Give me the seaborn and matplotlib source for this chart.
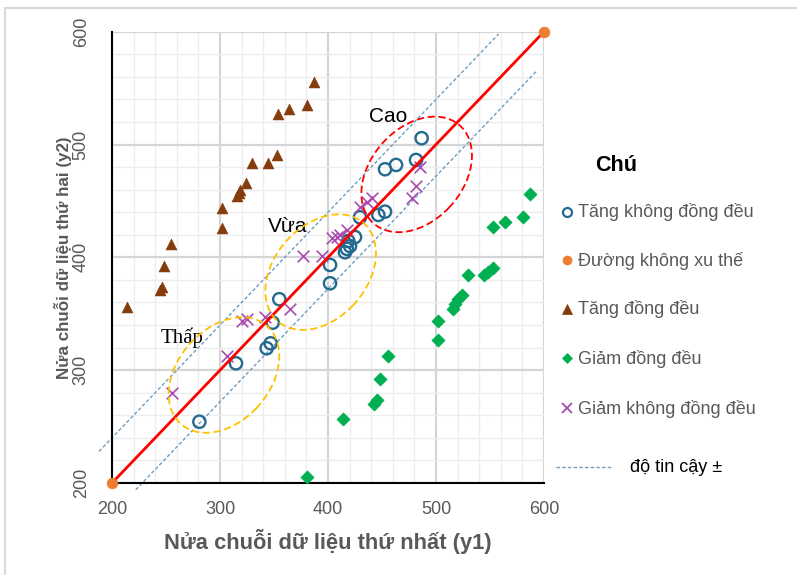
import matplotlib
matplotlib.use("Agg")
import matplotlib.pyplot as plt
import seaborn as sns
from matplotlib.patches import Ellipse
from matplotlib.lines import Line2D
from matplotlib.ticker import MultipleLocator

# ---- data: first half (y1) vs second half (y2) of each series ----
tang_kdd_y1 = [280.9, 314.8, 343.2, 346.9, 348.8, 354.9, 401.9, 401.9, 415.7, 417.5,
               420.4, 418.8, 425.0, 429.6, 446.6, 452.8, 452.8, 463.0, 481.5, 486.7]
tang_kdd_y2 = [254.3, 306.1, 319.4, 323.8, 342.1, 362.9, 377.0, 393.3, 404.5, 407.5,
               410.0, 414.5, 418.0, 435.5, 437.6, 440.5, 478.1, 481.9, 486.3, 505.6]

tang_dd_y1 = [213.6, 244.4, 246.0, 248.1, 254.6, 302.1, 302.1, 316.0, 317.9, 318.5,
              323.8, 329.9, 344.7, 352.5, 354.0, 364.2, 380.9, 387.0]
tang_dd_y2 = [355.8, 371.1, 374.0, 392.4, 411.9, 425.8, 443.5, 454.4, 456.8, 459.7,
              465.7, 484.0, 484.0, 490.8, 527.0, 531.3, 535.0, 555.8]

giam_dd_y1 = [380.8, 414.2, 442.3, 445.5, 448.1, 455.3, 502.1, 502.1, 515.5, 517.6,
              520.7, 523.8, 529.9, 544.4, 548.4, 552.5, 553.1, 563.9, 580.9, 587.0]
giam_dd_y2 = [205.0, 256.5, 270.0, 274.0, 291.9, 312.6, 326.8, 343.6, 354.0, 358.5,
              362.9, 366.7, 384.4, 384.4, 387.3, 390.9, 427.2, 431.6, 435.5, 455.9]

giam_kdd_y1 = [255.3, 306.8, 320.1, 324.7, 341.7, 364.8, 376.6, 394.2, 403.4, 408.6,
               411.1, 417.3, 429.6, 435.8, 440.5, 477.5, 481.5, 485.2]
giam_kdd_y2 = [280.0, 312.6, 343.9, 345.1, 346.9, 354.0, 401.2, 401.2, 416.9, 418.4,
               419.8, 424.3, 445.0, 449.4, 452.4, 452.4, 463.3, 480.4]

# no-trend line y2 = y1 and its confidence band
no_trend_y1 = [200, 600]
no_trend_y2 = [200, 600]
band_hi_y1 = [188, 558]
band_hi_y2 = [228, 598]
band_lo_y1 = [222, 593]
band_lo_y2 = [194, 565]

# grouping ellipses: (label, centre y1, centre y2)
groups = [("Thấp", 303.7, 295.7), ("Vừa", 393.2, 386.9), ("Cao", 482.1, 473.5)]

legend_labels = ["Tăng không đồng đều", "Đường không xu thế", "Tăng đồng đều",
                 "Giảm đồng đều", "Giảm không đồng đều"]
band_label = "độ tin cậy ±"
x_label = "Nửa chuỗi dữ liệu thứ nhất (y1)"
y_label = "Nửa chuỗi dữ liệu thứ hai (y2)"
ticks = [200, 300, 400, 500, 600]

# ---- styling ----
BLUE = "#236A8E"
ORANGE = "#ED7D31"
BROWN = "#843C0C"
GREEN = "#00B050"
PURPLE = "#A94BAE"
BAND = "#6E9DC0"
GRAY = "#595959"

sns.set_style("white")
plt.rcParams["font.family"] = ["Liberation Sans", "DejaVu Sans"]

W, H = 797, 575
fig = plt.figure(figsize=(W / 100, H / 100), dpi=100)
ax = fig.add_axes([112 / W, 1 - 483 / H, 432 / W, 451.3 / H])


def fx(px):
    return px / W


def fy(py):
    return 1 - py / H


# confidence band lines
for bx, by in [(band_hi_y1, band_hi_y2), (band_lo_y1, band_lo_y2)]:
    sns.lineplot(x=bx, y=by, ax=ax, color=BAND, lw=1.0, linestyle=(0, (2.5, 1.6)),
                 clip_on=False, zorder=2)

# series markers
sns.scatterplot(x=tang_dd_y1, y=tang_dd_y2, ax=ax, marker="^", s=62, color=BROWN,
                 edgecolor=BROWN, linewidth=0.4, zorder=3)
sns.scatterplot(x=giam_dd_y1, y=giam_dd_y2, ax=ax, marker="D", s=46, color=GREEN,
                 edgecolor=GREEN, linewidth=0.4, zorder=3)
sns.scatterplot(x=tang_kdd_y1, y=tang_kdd_y2, ax=ax, marker="o", s=78,
                 facecolors="none", edgecolor=BLUE, linewidth=1.7, zorder=3)
sns.scatterplot(x=giam_kdd_y1, y=giam_kdd_y2, ax=ax, marker="x", s=70, color=PURPLE,
                 linewidth=1.2, zorder=3)

# no-trend line with its end points
sns.lineplot(x=no_trend_y1, y=no_trend_y2, ax=ax, color="#FF0000", lw=2.0, zorder=4,
             clip_on=False)
sns.scatterplot(x=no_trend_y1, y=no_trend_y2, ax=ax, marker="o", s=60, color=ORANGE,
                 edgecolor=ORANGE, linewidth=0.5, zorder=5, clip_on=False)

# grouping ellipses and their labels
for name, cx, cy in groups:
    col = "#FF0000" if name == "Cao" else "#FFC000"
    ax.add_patch(Ellipse((cx, cy), width=118, height=84, angle=45, fill=False,
                         edgecolor=col, lw=1.3, linestyle=(0, (4, 2)), zorder=5))
ax.text(455.9, 520.3, "Cao", ha="center", va="baseline", fontsize=15, color="black")
ax.text(362.5, 422.8, "Vừa", ha="center", va="baseline", fontsize=15, color="black")
ax.text(265.3, 323.8, "Thấp", ha="center", va="baseline", fontsize=15, color="black",
        family=["Liberation Serif", "DejaVu Serif"])

# axes, ticks, grid
ax.set_xlim(200, 600)
ax.set_ylim(200, 600)
ax.set_xticks(ticks)
ax.set_yticks(ticks)
ax.xaxis.set_minor_locator(MultipleLocator(20))
ax.yaxis.set_minor_locator(MultipleLocator(20))
ax.grid(which="minor", color="#EDEDED", lw=1.0, zorder=0)
ax.grid(which="major", color="#D5D5D5", lw=1.6, zorder=0)
ax.set_axisbelow(True)
for side in ["top", "right"]:
    ax.spines[side].set_visible(False)
for side in ["left", "bottom"]:
    ax.spines[side].set_color("black")
    ax.spines[side].set_linewidth(1.5)
ax.tick_params(which="minor", length=0)
ax.tick_params(axis="x", which="major", direction="out", length=4, width=1.2,
               color="black", labelsize=13, labelcolor=GRAY, pad=9)
ax.tick_params(axis="y", which="major", direction="out", length=4, width=1.2,
               color="black", labelsize=13, labelcolor=GRAY, pad=12,
               labelrotation=90)
for lab in ax.get_yticklabels():
    lab.set_va("center")

narrow = ["Liberation Sans Narrow", "Liberation Sans", "DejaVu Sans"]
xl = ax.set_xlabel(x_label, fontsize=15, fontweight="bold", color=GRAY, family=narrow)
yl = ax.set_ylabel(y_label, fontsize=12, fontweight="bold", color=GRAY, family=narrow)
xl.set_va("center")
yl.set_va("center")
ax.xaxis.set_label_coords(0.5, (483 - 541) / 451.3)
ax.yaxis.set_label_coords((63 - 112) / 432, 0.5)

# fit the axis titles to their lengths
renderer = fig.canvas.get_renderer()
for lab, target, idx in [(xl, 328, 0), (yl, 242, 1)]:
    ext = lab.get_window_extent(renderer)
    size = ext.width if idx == 0 else ext.height
    lab.set_fontsize(lab.get_fontsize() * target / size)

# legend drawn in figure space
fig.text(fx(616), fy(171), "Chú", ha="center", va="baseline", fontsize=15.5,
         fontweight="bold", color="black")
leg_y = [211.5, 260, 308.5, 358, 408]
leg_style = [
    dict(marker="o", ms=6.5, mfc="none", mec=BLUE, mew=1.6),
    dict(marker="o", ms=6.5, mfc=ORANGE, mec=ORANGE, mew=0.5),
    dict(marker="^", ms=6.5, mfc=BROWN, mec=BROWN, mew=0.5),
    dict(marker="D", ms=4.8, mfc=GREEN, mec=GREEN, mew=0.5),
    dict(marker="x", ms=6.5, mec=PURPLE, mew=1.3),
]
for label, py, st in zip(legend_labels, leg_y, leg_style):
    fig.add_artist(Line2D([fx(567)], [fy(py)], linestyle="none", **st))
    fig.text(fx(578), fy(py + 5.5), label, ha="left", va="baseline", fontsize=13,
             color=GRAY)
fig.add_artist(Line2D([fx(556), fx(611)], [fy(467), fy(467)], color=BAND, lw=1.0,
                      linestyle=(0, (2.5, 1.6))))
fig.text(fx(630), fy(472), band_label, ha="left", va="baseline", fontsize=13,
         color="black")

# outer frame
fig.add_artist(Line2D([fx(5), fx(5)], [0, fy(8)], color="#D9D9D9", lw=1.5))
fig.add_artist(Line2D([fx(5), 1], [fy(8), fy(8)], color="#D9D9D9", lw=1.5))

fig.savefig("out.png", dpi=100)
